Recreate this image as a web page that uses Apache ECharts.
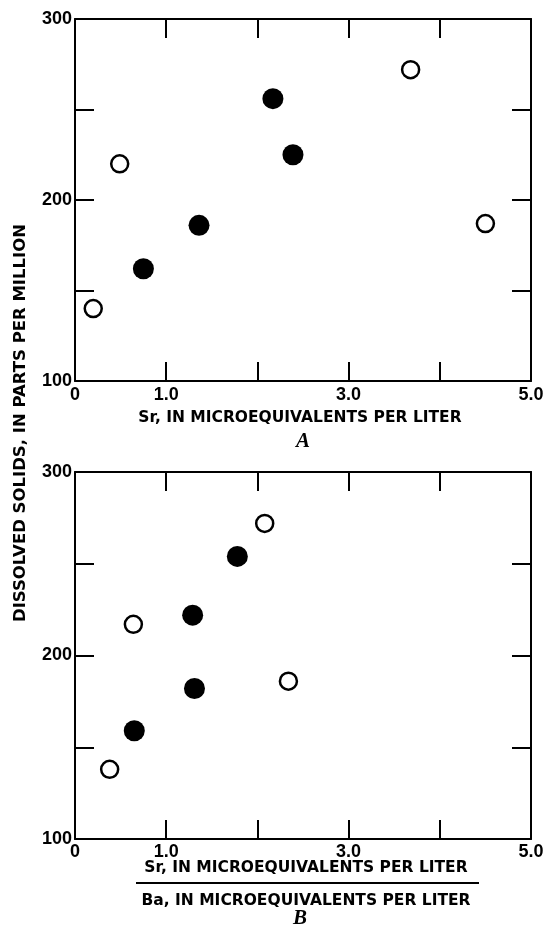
<!DOCTYPE html>
<html>
<head>
<meta charset="utf-8">
<script src="https://cdn.jsdelivr.net/npm/echarts@6/dist/echarts.min.js"></script>
<style>
html,body{margin:0;padding:0;background:#fff;}
#c{width:546px;height:934px;}
</style>
</head>
<body>
<div id="c"></div>
<script>
// ---- data ----
// Panel A: x = Sr (microequivalents per liter), y = dissolved solids (ppm)
const aFilled = [[0.75, 162], [1.36, 186], [2.17, 256], [2.39, 225]];
const aOpen   = [[0.20, 140], [0.49, 220], [3.68, 272], [4.50, 187]];
// Panel B: x = Sr/Ba ratio, y = dissolved solids (ppm)
const bFilled = [[0.65, 159], [1.29, 222], [1.31, 182], [1.78, 254]];
const bOpen   = [[0.38, 138], [0.64, 217], [2.08, 272], [2.34, 186]];

const xLabelValues = {0: '0', 1: '1.0', 3: '3.0', 5: '5.0'};
const yLabelValues = {100: '100', 200: '200', 300: '300'};

const yTitle = 'DISSOLVED SOLIDS, IN PARTS PER MILLION';
const xTitleA = 'Sr, IN MICROEQUIVALENTS PER LITER';
const xTitleBnum = 'Sr, IN MICROEQUIVALENTS PER LITER';
const xTitleBden = 'Ba, IN MICROEQUIVALENTS PER LITER';
const panelA = 'A';
const panelB = 'B';

// ---- styling ----
const INK = '#000';
const NAME_FONT = '"DejaVu Sans", "Liberation Sans", sans-serif';
const TICK_FONT = '"Liberation Sans", Arial, sans-serif';
const lineStyle = {color: INK, width: 2};
const tick = {show: true, inside: true, length: 19, lineStyle: {color: INK, width: 2}};

function xAxes(gi, margin) {
  return [
    {gridIndex: gi, type: 'value', position: 'bottom', min: 0, max: 5, interval: 1,
     axisLine: {show: true, onZero: false, lineStyle}, axisTick: tick, splitLine: {show: false},
     axisLabel: {show: true, showMinLabel: true, showMaxLabel: true, margin: margin, color: INK,
       fontSize: 18, fontWeight: 'bold', fontFamily: TICK_FONT,
       formatter: v => (xLabelValues[v] !== undefined ? xLabelValues[v] : '')}},
    {gridIndex: gi, type: 'value', position: 'top', min: 0, max: 5, interval: 1,
     axisLine: {show: true, onZero: false, lineStyle}, axisTick: tick, splitLine: {show: false},
     axisLabel: {show: false}}
  ];
}
function yAxes(gi) {
  return [
    {gridIndex: gi, type: 'value', position: 'left', min: 100, max: 300, interval: 50,
     axisLine: {show: true, onZero: false, lineStyle}, axisTick: tick, splitLine: {show: false},
     axisLabel: {show: true, showMinLabel: true, showMaxLabel: true, margin: 3, color: INK,
       fontSize: 18, fontWeight: 'bold', fontFamily: TICK_FONT,
       formatter: v => (yLabelValues[v] !== undefined ? yLabelValues[v] : '')}},
    {gridIndex: gi, type: 'value', position: 'right', min: 100, max: 300, interval: 50,
     axisLine: {show: true, onZero: false, lineStyle}, axisTick: tick, splitLine: {show: false},
     axisLabel: {show: false}}
  ];
}

const filledStyle = {color: INK, opacity: 1};
const openStyle = {color: '#fff', borderColor: INK, borderWidth: 2.5, opacity: 1};

const option = {
  animation: false,
  backgroundColor: '#fff',
  grid: [
    {left: 75, top: 19, width: 456, height: 362, outerBoundsMode: 'none', containLabel: false},
    {left: 75, top: 472, width: 456, height: 367, outerBoundsMode: 'none', containLabel: false}
  ],
  xAxis: [...xAxes(0, 5), ...xAxes(1, 4)],
  yAxis: [...yAxes(0), ...yAxes(1)],
  series: [
    {type: 'scatter', xAxisIndex: 0, yAxisIndex: 0, data: aFilled, symbol: 'circle', symbolSize: 21, itemStyle: filledStyle},
    {type: 'scatter', xAxisIndex: 0, yAxisIndex: 0, data: aOpen, symbol: 'circle', symbolSize: 17, itemStyle: openStyle},
    {type: 'scatter', xAxisIndex: 2, yAxisIndex: 2, data: bFilled, symbol: 'circle', symbolSize: 21, itemStyle: filledStyle},
    {type: 'scatter', xAxisIndex: 2, yAxisIndex: 2, data: bOpen, symbol: 'circle', symbolSize: 17, itemStyle: openStyle}
  ],
  graphic: [
    {type: 'text', x: 21, y: 423, rotation: Math.PI / 2,
     style: {text: yTitle, fill: INK, font: 'bold 16.5px ' + NAME_FONT, align: 'center', verticalAlign: 'middle'}},
    {type: 'text', x: 300, y: 418,
     style: {text: xTitleA, fill: INK, font: 'bold 15.5px ' + NAME_FONT, align: 'center', verticalAlign: 'middle'}},
    {type: 'text', x: 303, y: 442,
     style: {text: panelA, fill: INK, font: 'italic bold 21px "Liberation Serif", serif', align: 'center', verticalAlign: 'middle'}},
    {type: 'text', x: 306, y: 868,
     style: {text: xTitleBnum, fill: INK, font: 'bold 15.5px ' + NAME_FONT, align: 'center', verticalAlign: 'middle'}},
    {type: 'line', shape: {x1: 136, y1: 883, x2: 479, y2: 883}, style: {stroke: INK, lineWidth: 2}},
    {type: 'text', x: 306, y: 901,
     style: {text: xTitleBden, fill: INK, font: 'bold 15.5px ' + NAME_FONT, align: 'center', verticalAlign: 'middle'}},
    {type: 'text', x: 300, y: 919,
     style: {text: panelB, fill: INK, font: 'italic bold 21px "Liberation Serif", serif', align: 'center', verticalAlign: 'middle'}}
  ]
};

const chart = echarts.init(document.getElementById('c'), null, {renderer: 'canvas'});
chart.setOption(option);
</script>
</body>
</html>
